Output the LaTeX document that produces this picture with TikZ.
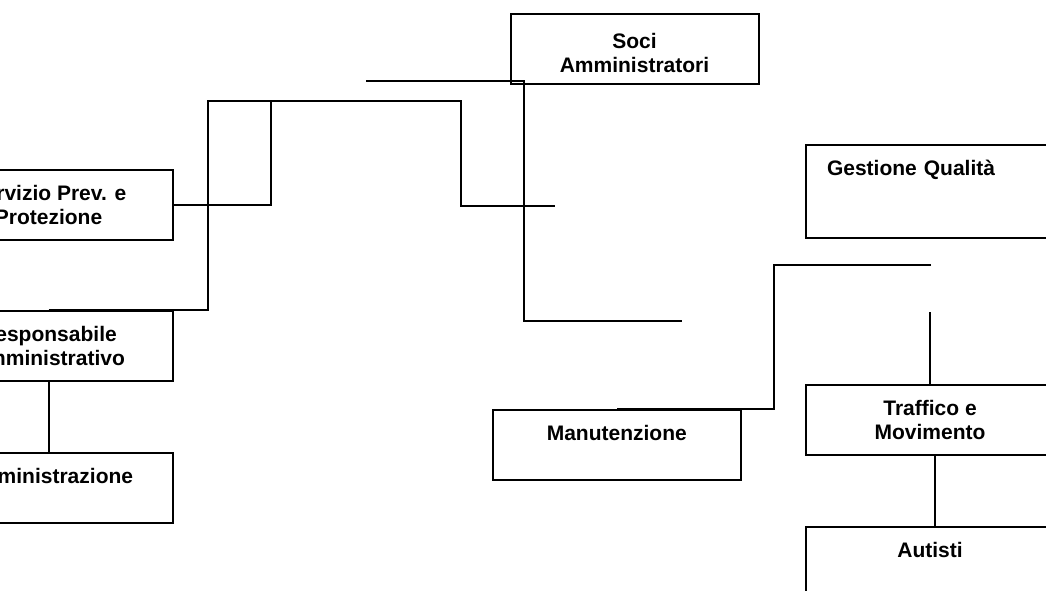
\documentclass[tikz,border=0pt]{standalone}
\usepackage{fontspec}
\setmainfont{Liberation Sans}
\usetikzlibrary{positioning}

\begin{document}
\begin{tikzpicture}[x=1pt,y=-1pt,line width=2pt,node distance=70pt]
    \tikzstyle{box}=[rectangle, draw, minimum width=248pt, minimum height=70pt, align=center, font=\fontsize{21}{24}\selectfont\bfseries]

    \useasboundingbox (0,0) rectangle (1046,590);
    \clip (0,0) rectangle (1046,590);

    \node[box]    (soci) at (634.5,49) {\rule{0pt}{24pt}Soci\\Amministratori};
    \node[box]    (serv) at (48.5,205) {Servizio Prev. e\\Protezione};
    \node[box]    (resp) at (48.5,345.5) {Responsabile\\Amministrativo};
    \node[box]    (amm) [below=of resp] {Amministrazione\\\mbox{}};
    \node[box]    (manut) at (616.8,444.5) {Manutenzione\\\mbox{}};
    \node[box, align=left, text width=206pt, inner xsep=21pt, minimum height=93pt] (gest) at (930,191.5) {Gestione Qualità\\\mbox{}\\\mbox{}};
    \node[box]    (traff) at (930,420) {Traffico e\\Movimento};
    \node[box]    (auti) [below=of traff] {Autisti\\\mbox{}};

    % loose ends
    \coordinate (topl) at (366,81);
    \coordinate (midr) at (682,321);
    \coordinate (bend) at (461,101);
    \coordinate (cross) at (555,206);
    \coordinate (left) at (366,101);
    \coordinate (qual) at (931,265);

    \draw (topl) -- ++(158,0) |- (midr);
    \draw (serv.east) -- ++(97,0) |- (bend) |- (cross);
    \draw (resp.north) -- ++(159,0) |- (left);
    \draw (resp) -- (amm);
    \draw (qual) -- ++(-157,0) |- (manut.north);
    \draw (traff.north) -- ++(0,-72);
    \draw ([xshift=5pt]traff.south) -- ([xshift=5pt]auti.north);
\end{tikzpicture}
\end{document}
